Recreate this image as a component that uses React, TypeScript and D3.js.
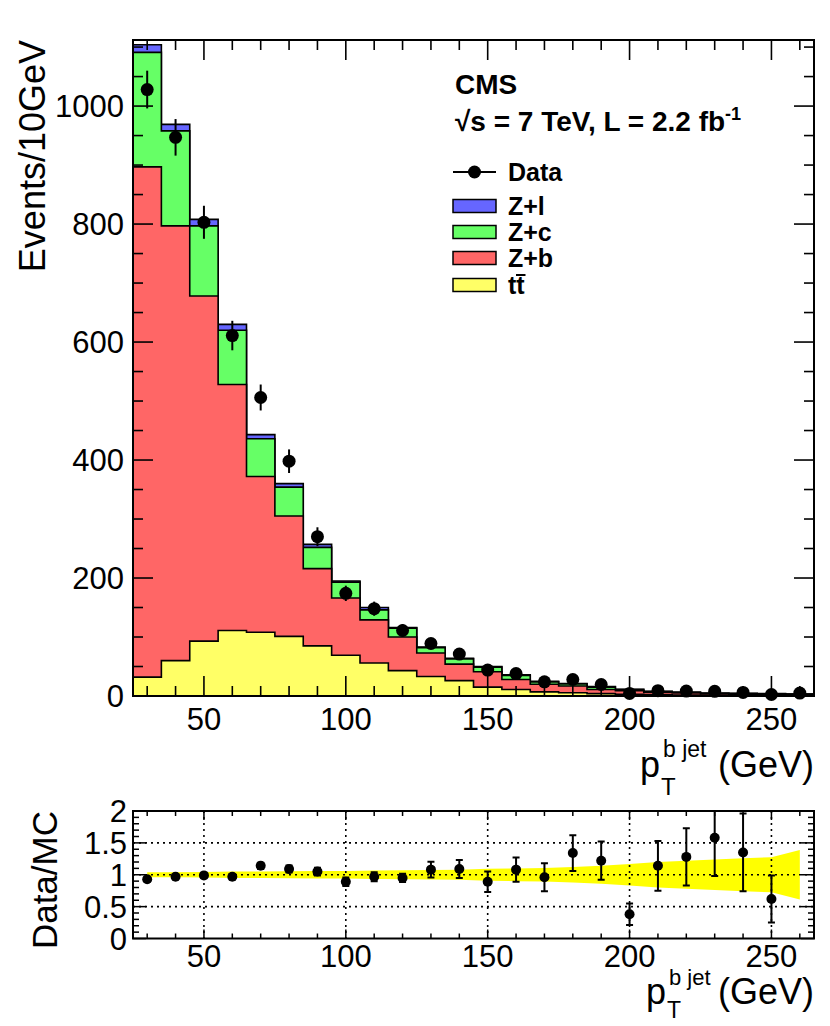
import * as d3 from "d3";
import React from "react";

// bin edges of the p_T(b jet) histogram (GeV)
const binEdges = [25, 35, 45, 55, 65, 75, 85, 95, 105, 115, 125, 135, 145, 155, 165, 175, 185, 195, 205, 215, 225, 235, 245, 255, 265];
const binCenters = [30, 40, 50, 60, 70, 80, 90, 100, 110, 120, 130, 140, 150, 160, 170, 180, 190, 200, 210, 220, 230, 240, 250, 260];

// MC components (events / 10 GeV), stacked bottom -> top
const ttbar = [32, 60, 93, 111, 108, 101, 85, 69, 56, 43, 33, 26, 15, 11, 7, 5.5, 4, 3, 2, 1.5, 1, 1, 0.8, 0.6];
const zPlusB = [865, 737, 585, 417, 264, 204, 131, 97, 73, 57, 40, 28, 26, 17, 13, 11.5, 7, 6, 4, 3.5, 2.5, 2, 1.7, 1.9];
const zPlusC = [194, 161, 119, 92, 64, 49, 36, 27, 17, 15, 9, 9, 8, 7, 4, 3.5, 4, 2, 1.5, 1, 1.2, 1.2, 1.3, 0.8];
const zPlusL = [13, 11, 11, 10, 7, 6, 5, 2, 4, 1, 1, 1, 1, 1, 1, 0.5, 1, 0.5, 0.5, 0.5, 0.3, 0.3, 0.2, 0.2];

// data
const dataCounts = [1028, 947, 803, 611, 506, 398, 270, 174, 148, 111, 89, 71, 44, 38, 24, 28, 19.5, 4.4, 9, 8.3, 7.9, 6, 2.5, 5];
const dataErrors = [32, 31, 28, 25, 22, 20, 16, 13, 12, 11, 9, 8, 7, 6, 5, 5, 4.4, 2, 3, 2.9, 2.8, 2.4, 1.6, 2.2];

// ratio panel
const ratioX = [30, 40, 50, 60, 70, 80, 90, 100, 110, 120, 130, 140, 150, 160, 170, 180, 190, 200, 210, 220, 230, 240, 250];
const ratioValues = [0.93, 0.97, 0.99, 0.97, 1.14, 1.09, 1.05, 0.89, 0.97, 0.95, 1.08, 1.09, 0.89, 1.08, 0.96, 1.34, 1.22, 0.38, 1.14, 1.28, 1.58, 1.35, 0.62];
const ratioErrors = [0.03, 0.03, 0.035, 0.04, 0.05, 0.055, 0.06, 0.065, 0.07, 0.065, 0.125, 0.14, 0.16, 0.19, 0.22, 0.28, 0.3, 0.17, 0.39, 0.45, 0.6, 0.61, 0.37];
const bandHalfWidth = [0.04, 0.04, 0.045, 0.05, 0.05, 0.055, 0.06, 0.06, 0.065, 0.07, 0.073, 0.08, 0.095, 0.1, 0.105, 0.12, 0.14, 0.17, 0.2, 0.22, 0.24, 0.26, 0.275, 0.39];

const xMajor = [50, 100, 150, 200, 250];
const yMainMajor = [0, 200, 400, 600, 800, 1000];
const yRatioMajor = [0, 0.5, 1, 1.5, 2];
const yRatioLabels = ["0", "0.5", "1", "1.5", "2"];

const FONT = "'Liberation Sans', Arial, Helvetica, sans-serif";

const main = { left: 133, right: 814, top: 40, bottom: 696 };
const rat = { left: 133, right: 814, top: 811, bottom: 938.5 };

const App = () => {
  const x = d3.scaleLinear().domain([25, 265]).range([main.left, main.right]);
  const y = d3.scaleLinear().domain([0, 1112]).range([main.bottom, main.top]);
  const yr = d3.scaleLinear().domain([0, 2]).range([rat.bottom, rat.top]);

  const rows = binCenters.map((c, i) => ({
    tt: ttbar[i],
    zb: zPlusB[i],
    zc: zPlusC[i],
    zl: zPlusL[i],
  }));
  const stack = d3.stack<any>().keys(["tt", "zb", "zc", "zl"])(rows);
  const colors: Record<string, string> = {
    tt: "#ffff66",
    zb: "#ff6666",
    zc: "#66ff66",
    zl: "#6666ff",
  };

  const stepPath = (tops: number[]) => {
    let p = `M${x(binEdges[0])},${y(0)}`;
    tops.forEach((v, i) => {
      p += `L${x(binEdges[i])},${y(v)}L${x(binEdges[i + 1])},${y(v)}`;
    });
    p += `L${x(binEdges[binEdges.length - 1])},${y(0)}Z`;
    return p;
  };

  const band = d3
    .area<number>()
    .x((_, i) => x(binCenters[i]))
    .y0((h) => yr(1 - h))
    .y1((h) => yr(1 + h));

  const xMinor = d3.range(30, 265, 10);
  const yMainMinor = d3.range(0, 1112, 50);
  const yRatioMinor = d3.range(0, 2.001, 0.1);

  const legend = [
    { key: "zl", label: "Z+l", cy: 206 },
    { key: "zc", label: "Z+c", cy: 232 },
    { key: "zb", label: "Z+b", cy: 258 },
    { key: "tt", label: "tt", cy: 285 },
  ];

  return (
    <svg
      width={830}
      height={1026}
      style={{ position: "absolute", left: 0, top: 0, background: "white" }}
      fontFamily={FONT}
    >
      <defs>
        <clipPath id="ratioClip">
          <rect x={rat.left} y={rat.top} width={rat.right - rat.left} height={rat.bottom - rat.top} />
        </clipPath>
      </defs>
      <rect width={830} height={1026} fill="white" />

      {/* stacked histograms, drawn from the total down */}
      {stack
        .slice()
        .reverse()
        .map((layer) => (
          <path
            key={layer.key}
            d={stepPath(layer.map((d) => d[1]))}
            fill={colors[layer.key]}
            stroke="#000"
            strokeWidth={1.6}
            strokeLinejoin="miter"
          />
        ))}

      {/* data */}
      {dataCounts.map((v, i) => (
        <g key={"d" + i}>
          <line
            x1={x(binCenters[i])}
            x2={x(binCenters[i])}
            y1={y(v - dataErrors[i])}
            y2={y(v + dataErrors[i])}
            stroke="#000"
            strokeWidth={2}
          />
          <circle cx={x(binCenters[i])} cy={y(v)} r={6.5} fill="#000" />
        </g>
      ))}

      {/* main frame ticks */}
      <g stroke="#000" strokeWidth={1.6}>
        {xMinor.map((t) => {
          const len = xMajor.includes(t) ? 20 : 10;
          return (
            <g key={"xt" + t}>
              <line x1={x(t)} x2={x(t)} y1={main.bottom} y2={main.bottom - len} />
              <line x1={x(t)} x2={x(t)} y1={main.top} y2={main.top + len} />
            </g>
          );
        })}
        {yMainMinor.map((t) => {
          const len = t % 200 === 0 ? 20 : 10;
          return (
            <g key={"yt" + t}>
              <line x1={main.left} x2={main.left + len} y1={y(t)} y2={y(t)} />
              <line x1={main.right} x2={main.right - len} y1={y(t)} y2={y(t)} />
            </g>
          );
        })}
      </g>
      <rect
        x={main.left}
        y={main.top}
        width={main.right - main.left}
        height={main.bottom - main.top}
        fill="none"
        stroke="#000"
        strokeWidth={2}
      />

      {/* main tick labels */}
      <g fontSize={31} fill="#000">
        {xMajor.map((t) => (
          <text key={"xl" + t} x={x(t)} y={730} textAnchor="middle">
            {t}
          </text>
        ))}
        {yMainMajor.map((t) => (
          <text key={"yl" + t} x={124} y={y(t)} dy="0.36em" textAnchor="end">
            {t}
          </text>
        ))}
      </g>

      {/* main axis titles */}
      <text transform={`translate(45,40) rotate(-90)`} textAnchor="end" fontSize={36}>
        Events/10GeV
      </text>
      <g fontSize={36}>
        <text x={640} y={777}>p</text>
        <text x={663} y={757} fontSize={23}>b jet</text>
        <text x={661} y={795} fontSize={24}>T</text>
        <text x={814} y={777} textAnchor="end">(GeV)</text>
      </g>

      {/* CMS label and legend */}
      <g fontWeight="bold" fill="#000">
        <text x={455} y={94} fontSize={28}>CMS</text>
        <text x={455} y={131} fontSize={28}>
          √s = 7 TeV, L = 2.2 fb
          <tspan fontSize={18} dy={-11}>-1</tspan>
        </text>
        <line x1={453} x2={496} y1={172} y2={172} stroke="#000" strokeWidth={2} />
        <circle cx={474.5} cy={172} r={6.5} fill="#000" />
        <text x={508} y={181} fontSize={25}>Data</text>
        {legend.map((e) => (
          <g key={"lg" + e.key}>
            <rect
              x={453}
              y={e.cy - 6.5}
              width={43}
              height={13}
              fill={colors[e.key]}
              stroke="#000"
              strokeWidth={1.5}
            />
            <text x={508} y={e.cy + 9} fontSize={25}>
              {e.label}
            </text>
          </g>
        ))}
        <line x1={516} x2={525.5} y1={275} y2={275} stroke="#000" strokeWidth={2} />
      </g>

      {/* ratio panel */}
      <path d={band(bandHalfWidth) ?? ""} fill="#ffff00" stroke="none" />
      <g stroke="#000" strokeWidth={1.6} strokeDasharray="2,4">
        {xMajor.map((t) => (
          <line key={"gx" + t} x1={x(t)} x2={x(t)} y1={rat.top} y2={rat.bottom} />
        ))}
        {[0.5, 1, 1.5].map((t) => (
          <line key={"gy" + t} x1={rat.left} x2={rat.right} y1={yr(t)} y2={yr(t)} />
        ))}
      </g>
      <g stroke="#000" strokeWidth={1.5}>
        {xMinor.map((t) => {
          const len = xMajor.includes(t) ? 9 : 5;
          return (
            <g key={"rxt" + t}>
              <line x1={x(t)} x2={x(t)} y1={rat.bottom} y2={rat.bottom - len} />
              <line x1={x(t)} x2={x(t)} y1={rat.top} y2={rat.top + len} />
            </g>
          );
        })}
        {yRatioMinor.map((t, i) => {
          const len = i % 5 === 0 ? 13 : 6;
          return (
            <g key={"ryt" + i}>
              <line x1={rat.left} x2={rat.left + len} y1={yr(t)} y2={yr(t)} />
              <line x1={rat.right} x2={rat.right - len} y1={yr(t)} y2={yr(t)} />
            </g>
          );
        })}
      </g>
      <g clipPath="url(#ratioClip)">
        {ratioValues.map((v, i) => {
          const cx = x(ratioX[i]);
          const lo = yr(v - ratioErrors[i]);
          const hi = yr(v + ratioErrors[i]);
          return (
            <g key={"r" + i} stroke="#000" strokeWidth={2}>
              <line x1={cx} x2={cx} y1={lo} y2={hi} />
              <line x1={cx - 3.5} x2={cx + 3.5} y1={lo} y2={lo} />
              <line x1={cx - 3.5} x2={cx + 3.5} y1={hi} y2={hi} />
              <circle cx={cx} cy={yr(v)} r={5} fill="#000" stroke="none" />
            </g>
          );
        })}
      </g>
      <rect
        x={rat.left}
        y={rat.top}
        width={rat.right - rat.left}
        height={rat.bottom - rat.top}
        fill="none"
        stroke="#000"
        strokeWidth={2}
      />
      <g fontSize={31} fill="#000">
        {xMajor.map((t) => (
          <text key={"rxl" + t} x={x(t)} y={967} textAnchor="middle">
            {t}
          </text>
        ))}
        {yRatioMajor.map((t, i) => (
          <text key={"ryl" + t} x={127} y={yr(t)} dy="0.36em" textAnchor="end">
            {yRatioLabels[i]}
          </text>
        ))}
      </g>
      <text transform={`translate(57,811) rotate(-90)`} textAnchor="end" fontSize={35}>
        Data/MC
      </text>
      <g fontSize={36}>
        <text x={646} y={1004}>p</text>
        <text x={669} y={985} fontSize={22}>b jet</text>
        <text x={667} y={1018} fontSize={23}>T</text>
        <text x={814} y={1004} textAnchor="end">(GeV)</text>
      </g>
    </svg>
  );
};

export default App;
